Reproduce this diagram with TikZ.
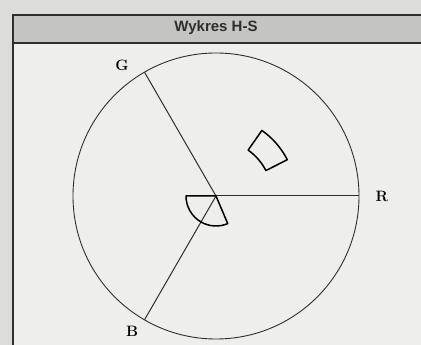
\documentclass[tikz,border=0pt]{standalone}
\usepackage{fontspec}
\usepackage{tikz}
\usepackage{xcolor}
\newfontfamily\winfont{Liberation Sans}
\definecolor{paneback}{HTML}{EEEEEC}
\definecolor{barback}{HTML}{C4C4C2}
\definecolor{outback}{HTML}{DCDCDA}
\definecolor{inkline}{HTML}{2E2E2E}
\tikzset{
  axislabel/.style={font=\fontsize{15}{17}\selectfont\bfseries, inner sep=0pt},
  spoke/.style={inkline, line width=1pt},
  region/.style={black, line width=1.5pt, line join=round}
}

\begin{document}
\begin{tikzpicture}[x=1pt, y=1pt]
        \useasboundingbox (0, 0) rectangle (421, 345);
        % window
        \fill[outback] (0, 0) rectangle (421, 345);
        \fill[paneback] (13, 0) rectangle (421, 302);
        \fill[barback] (13, 302) rectangle (421, 330);
        \draw[inkline, line width=1.2pt] (13, 0) -- (13, 330) -- (421, 330);
        \draw[inkline, line width=1.2pt] (13, 302) -- (421, 302);
        \node[font=\winfont\fontsize{15}{17}\selectfont\bfseries, inkline] (title) at (216, 317) {Wykres H-S};
        % wheel
        \coordinate (O) at (216, 149);
        \node[circle, draw=inkline, line width=0.9pt, minimum size=286pt, inner sep=0pt, outer sep=0pt] (wheel) at (O) {};
        \draw[spoke] (O) -- (wheel.0);
        \draw[spoke] (O) -- (wheel.120);
        \draw[spoke] (O) -- (wheel.240);
        \node[axislabel] (lR) at (382, 149) {R};
        \node[axislabel] (lG) at (122, 280) {G};
        \node[axislabel] (lB) at (132, 14) {B};
        % regions
        \draw[region] (O) -- ([shift={(180:30)}]O) arc[start angle=180, end angle=293, radius=30] -- cycle;
        \draw[region] ([shift={(27:56)}]O) arc[start angle=27, end angle=55, radius=56]
            -- ([shift={(55:80)}]O) arc[start angle=55, end angle=27, radius=80] -- cycle;
\end{tikzpicture}
\end{document}
